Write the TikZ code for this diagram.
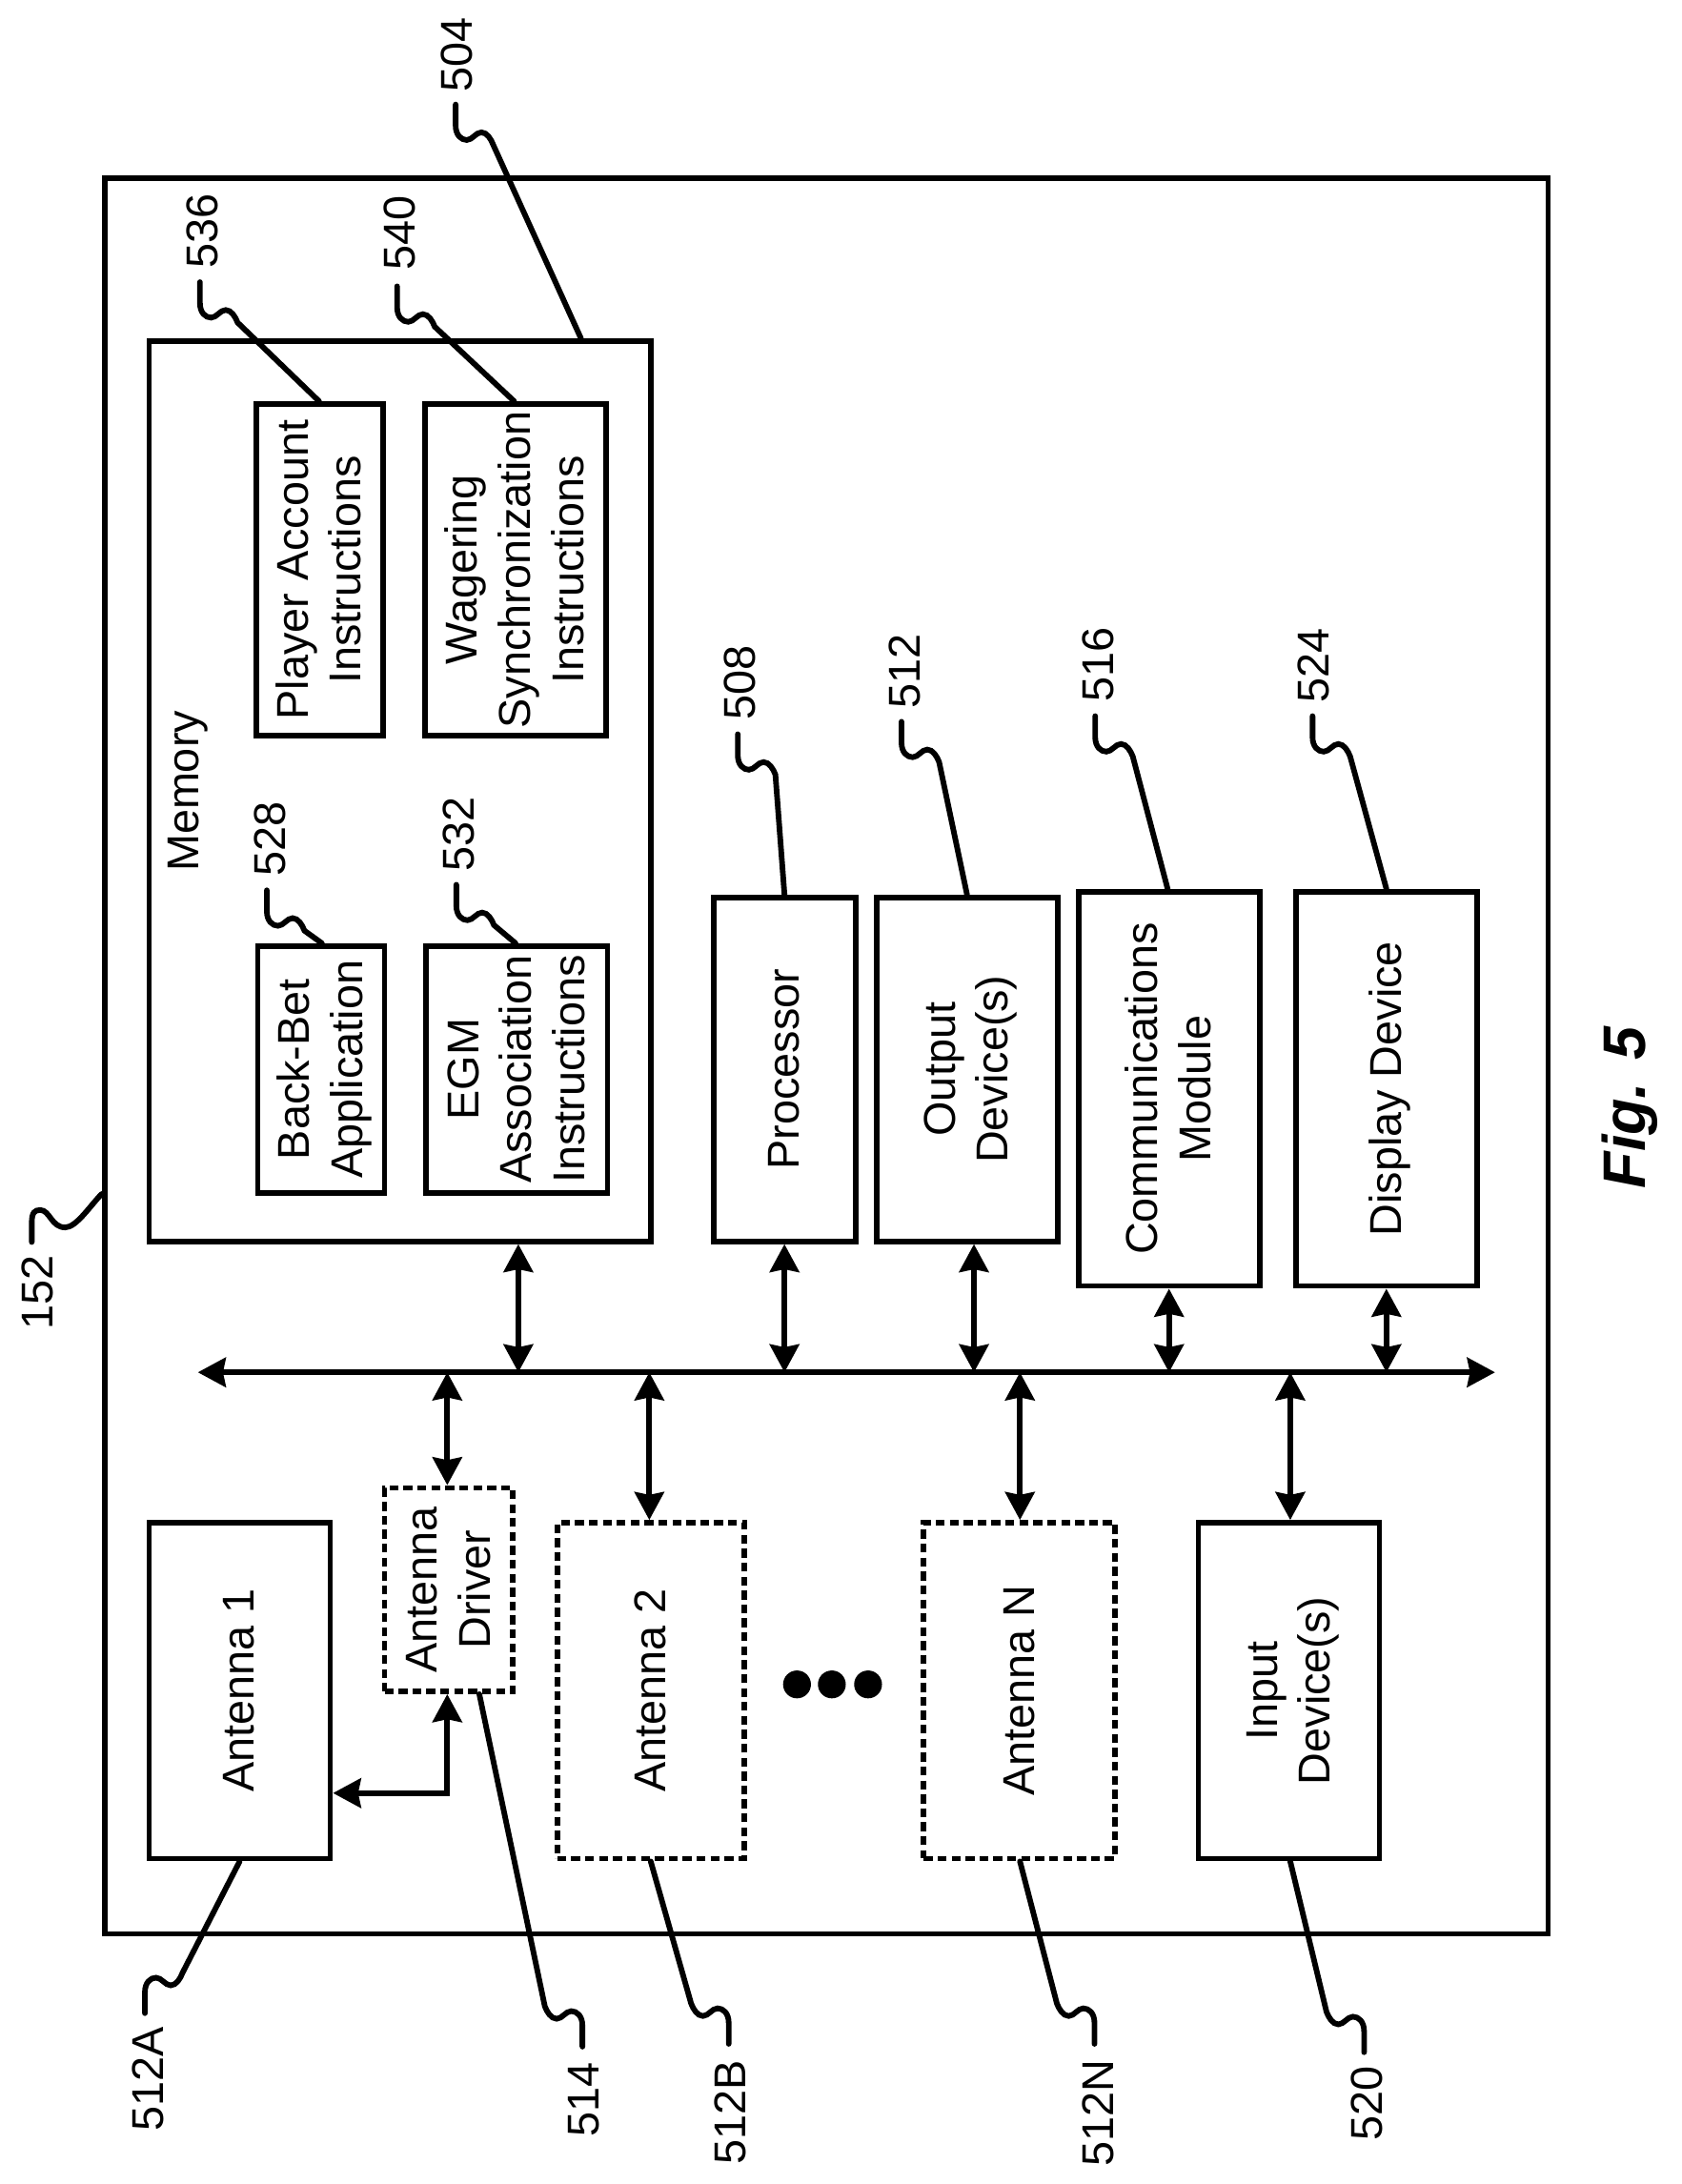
\documentclass[tikz,border=0pt]{standalone}
\usepackage{fontspec}
\setmainfont{Liberation Sans}
\usetikzlibrary{arrows.meta,calc}
\tikzset{
  bx/.style={draw=black,line width=2pt,inner sep=0pt,align=center,font=\fontsize{16}{19}\selectfont},
  dbx/.style={bx,dash pattern=on 3.2pt off 1.8pt},
  dbl/.style={line width=2pt,{Stealth[length=10pt,width=10.5pt,inset=1pt]}-{Stealth[length=10pt,width=10.5pt,inset=1pt]}},
  ldr/.style={line width=2pt,line cap=round},
  lbl/.style={rotate=90,inner sep=0pt,font=\fontsize{16}{19}\selectfont}
}
% box: style, name, x1, y1, x2, y2, rotated text
\newcommand{\bxn}[7]{\node[#1,minimum width={(#5-#3)*0.5pt},minimum height={(#6-#4)*0.5pt}] (#2) at ({(#3+#5)/2},{(#4+#6)/2}) {\hspace{3pt}\rotatebox{90}{\begin{tabular}{@{}c@{}}#7\end{tabular}}};}
% leader: start, target, x-sign, y-sign
\newcommand{\ldn}[4]{\draw[ldr] (#1) -- ++(0,{15*#4}) .. controls +(0,{7*#4}) and +({-4*#3},0) .. ++({8*#3},{10.5*#4}) .. controls +({4*#3},0) and +({-4*#3},0) .. ++({10.5*#3},{-5.5*#4}) .. controls +({4*#3},0) and +({-1.5*#3},{-4*#4}) .. ++({8.5*#3},{9*#4}) -- #2;}
\begin{document}
\begin{tikzpicture}[x=0.5pt,y=-0.5pt]
\useasboundingbox[fill=white] (0,0) rectangle (1206.5,1567.6);
\bxn{bx}{outer}{75}{128}{1111}{1388}{}
\bxn{bx}{memory}{107}{245}{467}{891}{}
\node[lbl] (memlabel) at (135,568) {Memory};
\bxn{bx}{player}{184}{290}{275}{528}{Player Account\\Instructions}
\bxn{bx}{wager}{305}{290}{435}{528}{Wagering\\Synchronization\\Instructions}
\bxn{bx}{backbet}{185}{679}{276}{856}{Back-Bet\\Application}
\bxn{bx}{egm}{306}{679}{436}{856}{EGM\\Association\\Instructions}
\bxn{bx}{proc}{512}{644}{614}{891}{Processor}
\bxn{bx}{output}{629}{644}{759}{891}{Output\\Device(s)}
\bxn{bx}{comm}{774}{640}{904}{923}{Communications\\Module}
\bxn{bx}{disp}{930}{640}{1060}{923}{Display Device}
\bxn{bx}{ant1}{107}{1093}{237}{1334}{Antenna 1}
\bxn{dbx}{driver}{276}{1068}{368}{1214}{Antenna\\Driver}
\bxn{dbx}{ant2}{400}{1093}{534}{1334}{Antenna 2}
\bxn{dbx}{antn}{663}{1093}{800}{1334}{Antenna N}
\bxn{bx}{input}{860}{1093}{990}{1334}{Input\\Device(s)}
% bus
\coordinate (busl) at (142,985);
\coordinate (busr) at (1073,985);
\draw[dbl] (busl) -- (busr);
\coordinate (b1) at (372,985);
\coordinate (b2) at (563,985);
\coordinate (b3) at (699,985);
\coordinate (b4) at (839,985);
\coordinate (b5) at (995,985);
\coordinate (b6) at (321,985);
\coordinate (b7) at (466,985);
\coordinate (b8) at (732,985);
\coordinate (b9) at (926,985);
\draw[dbl] (b1) -- (b1 |- memory.south);
\draw[dbl] (b2) -- (b2 |- proc.south);
\draw[dbl] (b3) -- (b3 |- output.south);
\draw[dbl] (b4) -- (b4 |- comm.south);
\draw[dbl] (b5) -- (b5 |- disp.south);
\draw[dbl] (b6) -- (b6 |- driver.north);
\draw[dbl] (b7) -- (b7 |- ant2.north);
\draw[dbl] (b8) -- (b8 |- antn.north);
\draw[dbl] (b9) -- (b9 |- input.north);
\coordinate (j1) at (321,1287);
\draw[dbl] (j1 -| ant1.east) -- (j1) -- (j1 |- driver.south);
% dots
\fill (572,1209) circle (5pt) (597,1209) circle (5pt) (623,1209) circle (5pt);
% labels
\node[lbl] (l504) at (328,39) {504};
\node[lbl] (l536) at (145,166) {536};
\node[lbl] (l540) at (287,167) {540};
\node[lbl] (l528) at (194,602) {528};
\node[lbl] (l532) at (329,599) {532};
\node[lbl] (l508) at (531,490) {508};
\node[lbl] (l512) at (649,482) {512};
\node[lbl] (l516) at (788,477) {516};
\node[lbl] (l524) at (943,478) {524};
\node[lbl] (l152) at (27,928) {152};
\node[lbl] (l512a) at (106,1492) {512A};
\node[lbl] (l514) at (419,1507) {514};
\node[lbl] (l512b) at (524,1516) {512B};
\node[lbl] (l512n) at (788,1517) {512N};
\node[lbl] (l520) at (981,1510) {520};
% leaders
\coordinate (s504) at (327,75);
\coordinate (s536) at (143.5,202.5);
\coordinate (s540) at (285,205.5);
\coordinate (s528) at (191.5,639);
\coordinate (s532) at (327.5,635);
\coordinate (s508) at (529.5,527);
\coordinate (s512) at (647,518);
\coordinate (s516) at (786,514);
\coordinate (s524) at (942,514);
\coordinate (s152) at (22.8,891.5);
\coordinate (s512a) at (104,1445);
\coordinate (s514) at (418,1469);
\coordinate (s512b) at (523,1467);
\coordinate (s512n) at (785.5,1467);
\coordinate (s520) at (979,1473);
\ldn{s504}{(memory.north -| 417,0)}{1}{1}
\ldn{s536}{(player.north -| 229,0)}{1}{1}
\ldn{s540}{(wager.north -| 369,0)}{1}{1}
\ldn{s528}{(backbet.north -| 231,0)}{1}{1}
\ldn{s532}{(egm.north -| 370,0)}{1}{1}
\ldn{s508}{(proc.north -| 563,0)}{1}{1}
\ldn{s512}{(output.north -| 694,0)}{1}{1}
\ldn{s516}{(comm.north -| 838,0)}{1}{1}
\ldn{s524}{(disp.north -| 995,0)}{1}{1}
\draw[ldr] (s152) -- ++(0,-14) .. controls +(0,-7) and +(-4,0) .. ++(6,-9) .. controls +(7,0) and +(-10,0) .. ++(18,12.5) .. controls +(8,0) and +(-8,8) .. (outer.west |- 0,857);
\ldn{s512a}{(ant1.south -| 172,0)}{1}{-1}
\ldn{s514}{(driver.south -| 344,0)}{-1}{-1}
\ldn{s512b}{(ant2.south -| 467,0)}{-1}{-1}
\ldn{s512n}{(antn.south -| 732,0)}{-1}{-1}
\ldn{s520}{(input.south -| 926,0)}{-1}{-1}
\node[rotate=90,inner sep=0pt,font=\fontsize{21.5}{26}\selectfont\bfseries\itshape] (fig) at (1170,795) {Fig. 5};
\end{tikzpicture}
\end{document}
